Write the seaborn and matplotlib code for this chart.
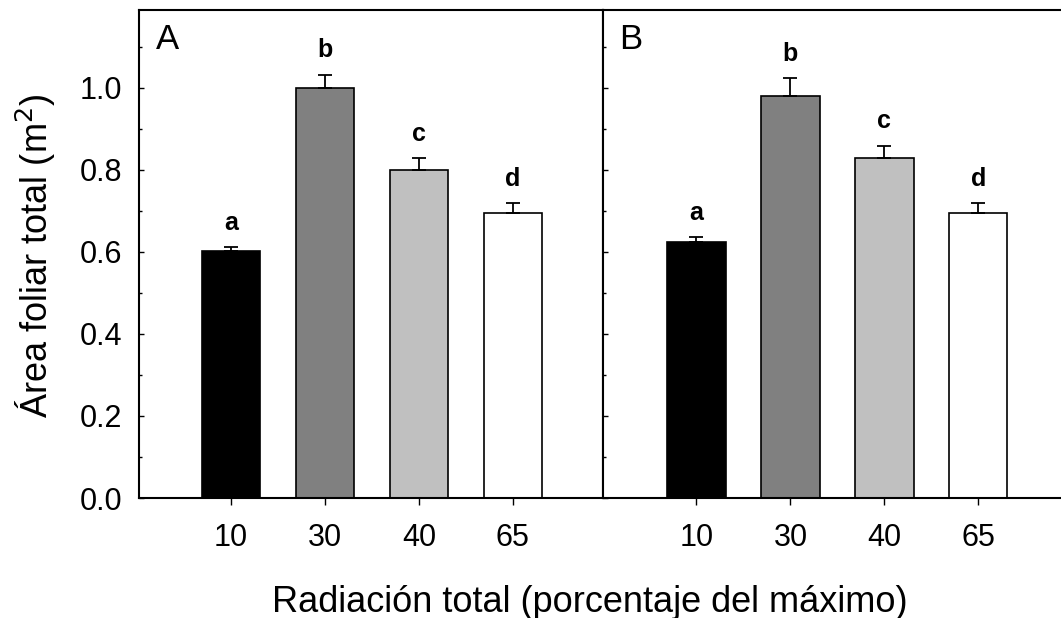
import numpy as np
import pandas as pd
import matplotlib
matplotlib.use("Agg")
import matplotlib.pyplot as plt
import matplotlib.ticker as mticker
import seaborn as sns

categories = ["10", "30", "40", "65"]
values_A = [0.602, 1.000, 0.800, 0.695]
errors_A = [0.010, 0.032, 0.029, 0.024]
letters_A = ["a", "b", "c", "d"]
values_B = [0.625, 0.980, 0.829, 0.695]
errors_B = [0.011, 0.044, 0.030, 0.024]
letters_B = ["a", "b", "c", "d"]
bar_colors = ["#000000", "#808080", "#c0c0c0", "#ffffff"]

sns.set_theme(style="white")
plt.rcParams['font.family'] = ['Liberation Sans', 'DejaVu Sans']
plt.rcParams.update({"text.color": "black", "axes.labelcolor": "black",
                     "xtick.color": "black", "ytick.color": "black",
                     "axes.edgecolor": "black"})

W, H = 1061, 618
fig = plt.figure(figsize=(W / 100, H / 100), dpi=100)
bottom_px, top_px = 498, 10
ax1 = fig.add_axes([139 / W, (H - bottom_px) / H, 464 / W, (bottom_px - top_px) / H])
ax2 = fig.add_axes([603 / W, (H - bottom_px) / H, 458 / W, (bottom_px - top_px) / H])

panels = [(ax1, values_A, errors_A, letters_A, "A", (-0.98, 3.96)),
          (ax2, values_B, errors_B, letters_B, "B", (-0.995, 3.88))]

for ax, vals, errs, lets, lab, xl in panels:
    df = pd.DataFrame({"cat": categories, "val": vals})
    sns.barplot(data=df, x="cat", y="val", hue="cat", palette=bar_colors,
                order=categories, hue_order=categories, legend=False,
                width=0.62, edgecolor="black", linewidth=1.2,
                errorbar=None, ax=ax)
    xs = np.arange(len(categories))
    ax.errorbar(xs, vals, yerr=[np.zeros(len(errs)), errs], fmt="none",
                ecolor="black", elinewidth=1.3, capsize=4.7, capthick=1.3)
    for x, v, e, t in zip(xs, vals, errs, lets):
        ax.text(x, v + e + 0.03, t, ha="center", va="bottom",
                fontsize=18, fontweight="bold")
    ax.set_xlim(*xl)
    ax.set_ylim(0, 1.19)
    ax.set_xlabel("")
    ax.set_ylabel("")
    ax.set_yticks(np.arange(0, 1.01, 0.2))
    ax.set_yticks(np.arange(0.1, 1.19, 0.2), minor=True)
    ax.tick_params(axis="y", which="major", direction="in", length=3.5, width=1,
                   labelsize=22, pad=12, left=True)
    ax.tick_params(axis="y", which="minor", direction="in", length=2.2, width=1,
                   left=True)
    ax.tick_params(axis="x", which="major", direction="out", length=5, width=1,
                   labelsize=22, pad=13, bottom=True)
    for s in ax.spines.values():
        s.set_color("black")
        s.set_linewidth(1.5)
    ax.text(0.036, 0.94, lab, transform=ax.transAxes,
            ha="left", va="center", fontsize=25)

ax1.yaxis.set_major_formatter(mticker.FormatStrFormatter("%.1f"))
ax2.tick_params(axis="y", labelleft=False)
ax2.spines["right"].set_visible(False)

fig.text(36 / W, 1 - 256 / H, "Área foliar total (m$^2$)", rotation=90,
         ha="center", va="center", fontsize=26)
fig.text(590 / W, 1 - 612 / H, "Radiación total (porcentaje del máximo)",
         ha="center", va="baseline", fontsize=26)

fig.savefig("out.png", dpi=100, facecolor="white")
